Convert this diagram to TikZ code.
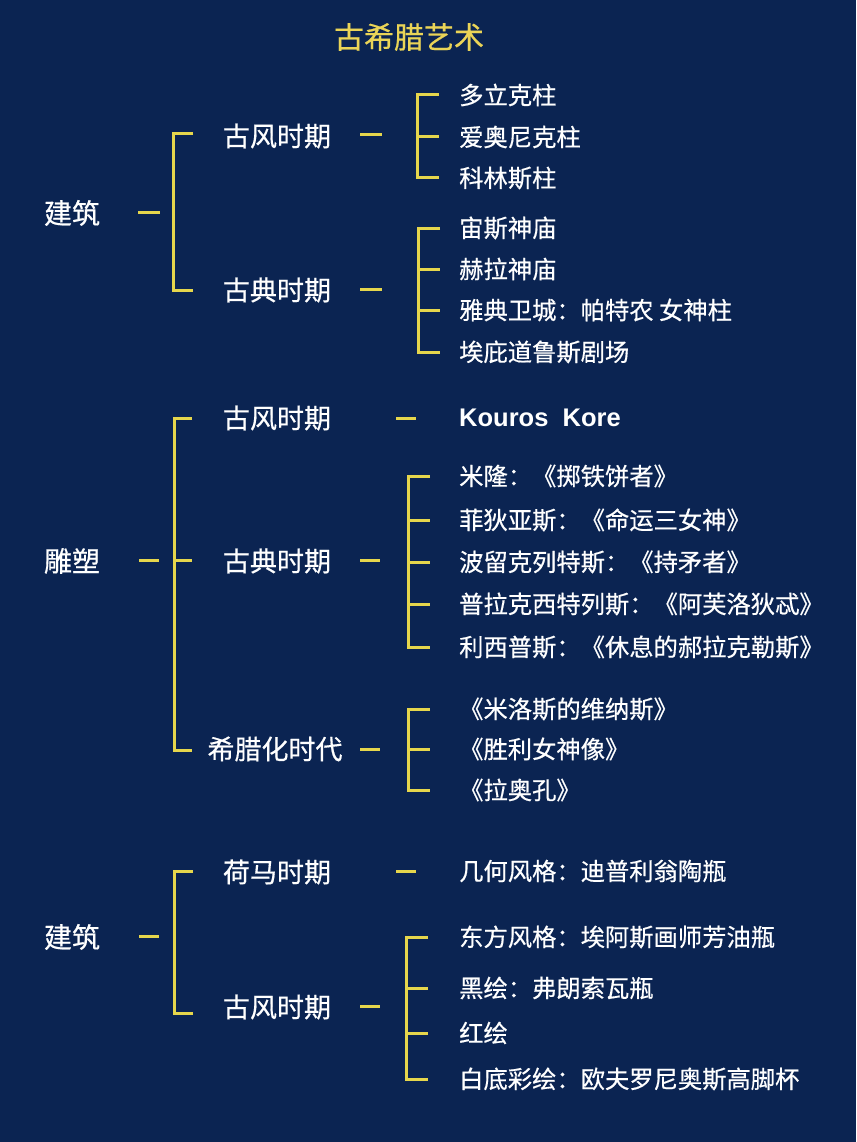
\documentclass[tikz,border=0pt]{standalone}
\usepackage{fontspec}
\setmainfont{Noto Sans CJK SC}[FakeBold=0.5]
\newfontfamily\latfont{Liberation Sans}
\definecolor{bg}{HTML}{0B2452}
\definecolor{ln}{HTML}{E6D64C}
\definecolor{tt}{HTML}{EAD457}
\begin{document}
\begin{tikzpicture}[x=1pt,y=-1pt,
  br/.style={draw=ln,line width=3pt},
  lone/.style={text=white,font=\fontsize{28}{32}\selectfont,inner sep=0pt,anchor=center},
  ltwo/.style={text=white,font=\fontsize{27}{31}\selectfont,inner sep=0pt,anchor=center},
  item/.style={text=white,font=\fontsize{24.3}{29}\selectfont,inner sep=0pt,anchor=west}]
\fill[bg] (0,0) rectangle (856,1142);
\useasboundingbox (0,0) rectangle (856,1142);
\node[text=tt,font=\fontsize{30}{34}\selectfont,inner sep=0pt] (title) at (409,37) {古希腊艺术};

% ===== Section 1 =====
\node[lone] (s1) at (72,213) {建筑};
\coordinate (s1d0) at (138,212); \coordinate (s1d1) at (160,212);
\draw[br] (s1d0) -- (s1d1);
\coordinate (s1t) at (193,134); \coordinate (s1b) at (193,290);
\coordinate (s1v) at (173,0);
\draw[br] (s1t) -- (s1v |- s1t) -- (s1v |- s1b) -- (s1b);
\node[ltwo] (s1a) at (277,136) {古风时期};
\node[ltwo] (s1c) at (277,290) {古典时期};
\coordinate (s1ad0) at (360,135); \coordinate (s1ad1) at (382,135);
\draw[br] (s1ad0) -- (s1ad1);
\coordinate (s1cd0) at (360,289); \coordinate (s1cd1) at (382,289);
\draw[br] (s1cd0) -- (s1cd1);
% group A
\node[item] (a1) at (459,95) {多立克柱};
\node[item] (a2) at (459,137) {爱奥尼克柱};
\node[item] (a3) at (459,178) {科林斯柱};
\coordinate (gAv) at (417,0); \coordinate (gAe) at (439,0);
\draw[br] (gAe |- a1.west) -- (gAv |- a1.west) -- (gAv |- a3.west) -- (gAe |- a3.west);
\draw[br] (gAv |- a2.west) -- (gAe |- a2.west);
% group B
\node[item] (b1) at (459,228) {宙斯神庙};
\node[item] (b2) at (459,269) {赫拉神庙};
\node[item] (b3) at (459,310) {雅典卫城：帕特农 女神柱};
\node[item] (b4) at (459,352) {埃庇道鲁斯剧场};
\coordinate (gBv) at (418,0); \coordinate (gBe) at (440,0);
\draw[br] (gBe |- b1.west) -- (gBv |- b1.west) -- (gBv |- b4.west) -- (gBe |- b4.west);
\draw[br] (gBv |- b2.west) -- (gBe |- b2.west);
\draw[br] (gBv |- b3.west) -- (gBe |- b3.west);

% ===== Section 2 =====
\node[lone] (s2) at (72,561) {雕塑};
\coordinate (s2d0) at (139,560); \coordinate (s2d1) at (159,560);
\draw[br] (s2d0) -- (s2d1);
\coordinate (s2t) at (192,418); \coordinate (s2m) at (192,560); \coordinate (s2b) at (192,750);
\coordinate (s2v) at (174,0);
\draw[br] (s2t) -- (s2v |- s2t) -- (s2v |- s2b) -- (s2b);
\draw[br] (s2v |- s2m) -- (s2m);
\node[ltwo] (s2a) at (277,418) {古风时期};
\node[ltwo] (s2c) at (277,561) {古典时期};
\node[ltwo] (s2h) at (275,749) {希腊化时代};
\coordinate (s2ad0) at (396,418); \coordinate (s2ad1) at (416,418);
\draw[br] (s2ad0) -- (s2ad1);
\node[item,font=\latfont\bfseries\fontsize{25.5}{29}\selectfont] (kk) at (459,418) {Kouros\ \ Kore};
\coordinate (s2cd0) at (360,560); \coordinate (s2cd1) at (380,560);
\draw[br] (s2cd0) -- (s2cd1);
\coordinate (s2hd0) at (360,749); \coordinate (s2hd1) at (380,749);
\draw[br] (s2hd0) -- (s2hd1);
% group C
\node[item] (c1) at (459,476) {米隆：《掷铁饼者》};
\node[item] (c2) at (459,520) {菲狄亚斯：《命运三女神》};
\node[item] (c3) at (459,562) {波留克列特斯：《持矛者》};
\node[item] (c4) at (459,604) {普拉克西特列斯：《阿芙洛狄忒》};
\node[item] (c5) at (459,647) {利西普斯：《休息的郝拉克勒斯》};
\coordinate (gCv) at (408,0); \coordinate (gCe) at (430,0);
\draw[br] (gCe |- c1.west) -- (gCv |- c1.west) -- (gCv |- c5.west) -- (gCe |- c5.west);
\draw[br] (gCv |- c2.west) -- (gCe |- c2.west);
\draw[br] (gCv |- c3.west) -- (gCe |- c3.west);
\draw[br] (gCv |- c4.west) -- (gCe |- c4.west);
% group D
\node[item] (d1) at (459,709) {《米洛斯的维纳斯》};
\node[item] (d2) at (459,749) {《胜利女神像》};
\node[item] (d3) at (459,790) {《拉奥孔》};
\coordinate (gDv) at (408,0); \coordinate (gDe) at (430,0);
\draw[br] (gDe |- d1.west) -- (gDv |- d1.west) -- (gDv |- d3.west) -- (gDe |- d3.west);
\draw[br] (gDv |- d2.west) -- (gDe |- d2.west);

% ===== Section 3 =====
\node[lone] (s3) at (72,937) {建筑};
\coordinate (s3d0) at (139,936); \coordinate (s3d1) at (159,936);
\draw[br] (s3d0) -- (s3d1);
\coordinate (s3t) at (193,871); \coordinate (s3b) at (193,1013);
\coordinate (s3v) at (174,0);
\draw[br] (s3t) -- (s3v |- s3t) -- (s3v |- s3b) -- (s3b);
\node[ltwo] (s3a) at (277,872) {荷马时期};
\node[ltwo] (s3c) at (277,1007) {古风时期};
\coordinate (s3ad0) at (396,871); \coordinate (s3ad1) at (416,871);
\draw[br] (s3ad0) -- (s3ad1);
\node[item] (e0) at (459,871) {几何风格：迪普利翁陶瓶};
\coordinate (s3cd0) at (360,1006); \coordinate (s3cd1) at (380,1006);
\draw[br] (s3cd0) -- (s3cd1);
% group F
\node[item] (f1) at (459,937) {东方风格：埃阿斯画师芳油瓶};
\node[item] (f2) at (459,988) {黑绘：弗朗索瓦瓶};
\node[item] (f3) at (459,1033) {红绘};
\node[item] (f4) at (459,1079) {白底彩绘：欧夫罗尼奥斯高脚杯};
\coordinate (gFv) at (406,0); \coordinate (gFe) at (428,0);
\draw[br] (gFe |- f1.west) -- (gFv |- f1.west) -- (gFv |- f4.west) -- (gFe |- f4.west);
\draw[br] (gFv |- f2.west) -- (gFe |- f2.west);
\draw[br] (gFv |- f3.west) -- (gFe |- f3.west);
\end{tikzpicture}
\end{document}
